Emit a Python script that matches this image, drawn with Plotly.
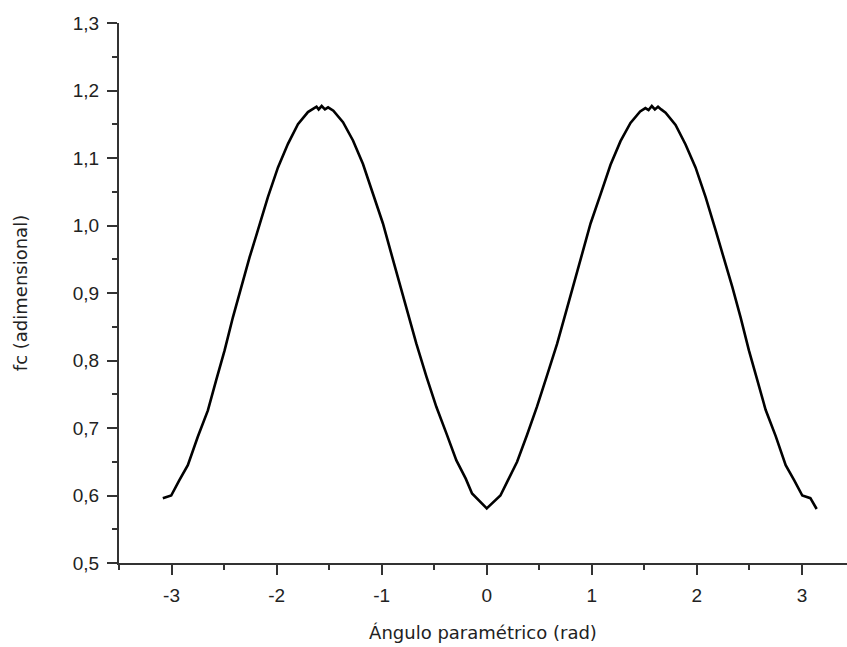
import plotly.graph_objects as go

# Ángulo paramétrico (rad)
x_vals = [
    -3.083, -3.003, -2.924, -2.845, -2.750, -2.654, -2.575, -2.495, -2.416, -2.337,
    -2.257, -2.178, -2.083, -1.987, -1.892, -1.797, -1.702, -1.650, -1.620, -1.600,
    -1.571, -1.540, -1.510, -1.460, -1.368, -1.273, -1.178, -1.083, -0.988, -0.908,
    -0.829, -0.749, -0.670, -0.574, -0.479, -0.384, -0.289, -0.200, -0.140, 0.000,
    0.130, 0.200, 0.289, 0.384, 0.479, 0.574, 0.670, 0.749, 0.829, 0.908,
    0.988, 1.083, 1.178, 1.273, 1.368, 1.460, 1.510, 1.540, 1.571, 1.600,
    1.630, 1.660, 1.702, 1.797, 1.892, 1.987, 2.083, 2.178, 2.257, 2.337,
    2.416, 2.495, 2.575, 2.654, 2.750, 2.845, 2.924, 3.003, 3.080, 3.140,
]
# fc (adimensional)
fc_vals = [
    0.596, 0.600, 0.623, 0.645, 0.687, 0.726, 0.771, 0.815, 0.864, 0.909,
    0.953, 0.993, 1.042, 1.086, 1.121, 1.150, 1.168, 1.173, 1.176, 1.172,
    1.177, 1.172, 1.175, 1.170, 1.153, 1.126, 1.091, 1.047, 1.003, 0.958,
    0.914, 0.869, 0.825, 0.776, 0.731, 0.692, 0.652, 0.625, 0.603, 0.581,
    0.600, 0.622, 0.650, 0.690, 0.732, 0.778, 0.825, 0.869, 0.913, 0.958,
    1.003, 1.046, 1.090, 1.125, 1.152, 1.169, 1.174, 1.171, 1.177, 1.172,
    1.176, 1.172, 1.167, 1.149, 1.120, 1.086, 1.042, 0.993, 0.953, 0.909,
    0.864, 0.815, 0.771, 0.727, 0.688, 0.645, 0.623, 0.600, 0.596, 0.580,
]

x_ticks = [-3, -2, -1, 0, 1, 2, 3]
y_ticks = [0.5, 0.6, 0.7, 0.8, 0.9, 1.0, 1.1, 1.2, 1.3]

fig = go.Figure()
fig.add_trace(go.Scatter(
    x=x_vals, y=fc_vals, mode="lines",
    line=dict(color="black", width=2.6),
    showlegend=False, hoverinfo="skip",
))

axis_common = dict(
    showgrid=False, zeroline=False, showline=True,
    linecolor="#333333", linewidth=2,
    ticks="outside", ticklen=10, tickwidth=1.5, tickcolor="#333333",
    tickfont=dict(family="Liberation Sans, Arial, sans-serif", size=19, color="#222222"),
    ticklabelstandoff=4,
    minor=dict(ticks="outside", ticklen=5, tickwidth=1.5, tickcolor="#333333", showgrid=False),
)

fig.update_xaxes(
    **axis_common,
    range=[-3.5, 3.4286],
    tickmode="array", tickvals=x_ticks, ticktext=[str(v) for v in x_ticks],
    minor_dtick=0.5, minor_tick0=0,
    title=dict(text="Ángulo paramétrico (rad)",
               font=dict(family="DejaVu Sans, sans-serif", size=18, color="#222222"),
               standoff=22),
)
fig.update_yaxes(
    **axis_common,
    range=[0.5, 1.3],
    tickmode="array", tickvals=y_ticks, ticktext=[f"{v:.1f}".replace(".", ",") for v in y_ticks],
    minor_dtick=0.05, minor_tick0=0.5,
    title=dict(text="fc (adimensional)",
               font=dict(family="DejaVu Sans, sans-serif", size=18, color="#222222"),
               standoff=40),
)

fig.update_layout(
    width=847, height=647,
    margin=dict(l=119, r=0, t=23, b=84, pad=0),
    plot_bgcolor="white", paper_bgcolor="white",
)

fig.write_html("out.html")
